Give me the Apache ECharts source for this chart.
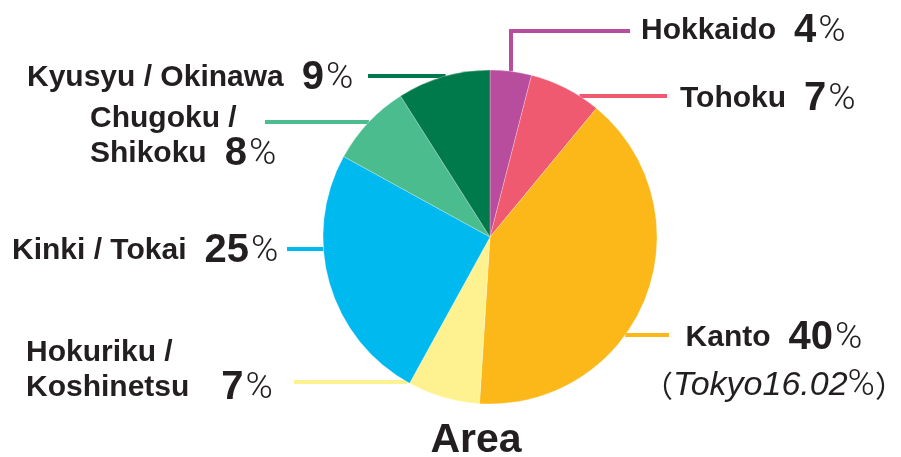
<!DOCTYPE html>
<html>
<head>
<meta charset="utf-8">
<script src="https://cdn.jsdelivr.net/npm/echarts@6/dist/echarts.min.js"></script>
<style>
  html, body { margin: 0; padding: 0; background: #ffffff; }
  #chart { width: 901px; height: 457px; }
</style>
</head>
<body>
<div id="chart"></div>
<script>
// Share of respondents by area (%)
const regions = ['Hokkaido', 'Tohoku', 'Kanto', 'Hokuriku / Koshinetsu', 'Kinki / Tokai', 'Chugoku / Shikoku', 'Kyusyu / Okinawa'];
const shares = [4, 7, 40, 7, 25, 8, 9];
const tokyoShare = 16.02;
const chartTitle = 'Area';

const sliceColors = ['#B84C9D', '#EF5A70', '#FCB718', '#FEF290', '#00B9EF', '#4BBC8E', '#007A4A'];
const ink = '#231F20';

// pie geometry (px)
const CX = 490, CY = 237, R = 167;

// label block placement (top-left or top-center) and leader line rows
const placement = [
  { x: 641, y: 13,  align: 'left',   gap: 'v',  line: { elbowX: 511, y: 31, endX: 630 } },
  { x: 680, y: 81,  align: 'left',   gap: 'v',  line: { y: 96,  endX: 667, side: 1 } },
  { x: 774, y: 320, align: 'center', gap: 'v',  line: { y: 335, endX: 669, side: 1 } },
  { x: 26,  y: 335, align: 'left',   gap: 'vw', wrap: true, line: { y: 382, endX: 294, side: -1 } },
  { x: 12,  y: 233, align: 'left',   gap: 'v',  line: { y: 249, endX: 287, side: -1 } },
  { x: 90,  y: 101, align: 'left',   gap: 'v',  wrap: true, line: { y: 122, endX: 265, side: -1 } },
  { x: 27,  y: 60,  align: 'left',   gap: 'v',  line: { y: 76,  endX: 368, side: -1 } }
];

function edgeX(y, side) {
  return CX + side * Math.sqrt(R * R - (y - CY) * (y - CY));
}

function labelText(i) {
  const name = regions[i];
  const pl = placement[i];
  const val = '{' + pl.gap + '|' + shares[i] + '}{p|%}';
  let txt;
  if (pl.wrap) {
    const cut = name.indexOf('/') + 1;
    txt = '{n|' + name.slice(0, cut) + '}\n{n|' + name.slice(cut).trim() + '}' + val;
  } else {
    txt = '{n|' + name + '}' + val;
  }
  if (i === 2) {
    txt += '\n{k|（}{t|Tokyo' + tokyoShare.toFixed(2) + '}{q|%}{k|）}';
  }
  return txt;
}

const data = regions.map((name, i) => ({
  name: name,
  value: shares[i],
  itemStyle: { color: sliceColors[i] }
}));

const SANS = '"Liberation Sans", Arial, sans-serif';
const THIN = 'Roboto, "Liberation Sans", sans-serif';

const chart = echarts.init(document.getElementById('chart'), null, { renderer: 'canvas' });

chart.setOption({
  backgroundColor: '#ffffff',
  animation: false,
  graphic: [{
    type: 'text',
    x: 476,
    y: 441,
    style: {
      text: chartTitle,
      font: 'bold 41px "Liberation Sans", Arial, sans-serif',
      fill: ink,
      align: 'center',
      verticalAlign: 'middle',
      textAlign: 'center',
      textVerticalAlign: 'middle'
    }
  }],
  series: [{
    type: 'pie',
    center: [CX, CY],
    radius: R,
    startAngle: 90,
    clockwise: true,
    avoidLabelOverlap: false,
    silent: true,
    data: data,
    itemStyle: { borderColor: 'rgba(255,255,255,0.5)', borderWidth: 0.5 },
    label: {
      show: true,
      position: 'outside',
      formatter: p => labelText(p.dataIndex),
      color: ink,
      rich: {
        n: { fontFamily: SANS, fontWeight: 'bold', fontSize: 30, color: ink, lineHeight: 35 },
        v: { fontFamily: SANS, fontWeight: 'bold', fontSize: 40, color: ink, lineHeight: 35, padding: [0, 0, 0, 18] },
        vw: { fontFamily: SANS, fontWeight: 'bold', fontSize: 40, color: ink, lineHeight: 35, padding: [0, 0, 0, 32] },
        p: { fontFamily: THIN, fontWeight: 300, fontSize: 37, color: ink, lineHeight: 35, padding: [3, 0, 0, 2] },
        t: { fontFamily: SANS, fontStyle: 'italic', fontWeight: 'normal', fontSize: 34, color: ink, lineHeight: 61 },
        q: { fontFamily: THIN, fontWeight: 300, fontSize: 37, color: ink, lineHeight: 61 },
        k: { fontFamily: '"Noto Sans CJK JP", sans-serif', fontWeight: 'normal', fontSize: 30, color: ink, lineHeight: 61 }
      }
    },
    labelLine: {
      show: true,
      length: 10,
      length2: 10,
      smooth: false,
      lineStyle: { width: 4 }
    },
    labelLayout: function (params) {
      const i = params.dataIndex;
      const pl = placement[i];
      const ln = pl.line;
      let pts;
      if (ln.elbowX !== undefined) {
        const top = CY - Math.sqrt(R * R - (ln.elbowX - CX) * (ln.elbowX - CX));
        pts = [[ln.elbowX, top], [ln.elbowX, ln.y], [ln.endX, ln.y]];
      } else {
        const sx = edgeX(ln.y, ln.side);
        pts = [[sx, ln.y], [(sx + ln.endX) / 2, ln.y], [ln.endX, ln.y]];
      }
      return {
        x: pl.x,
        y: pl.y,
        align: pl.align,
        verticalAlign: 'top',
        labelLinePoints: pts
      };
    }
  }]
});
</script>
</body>
</html>
